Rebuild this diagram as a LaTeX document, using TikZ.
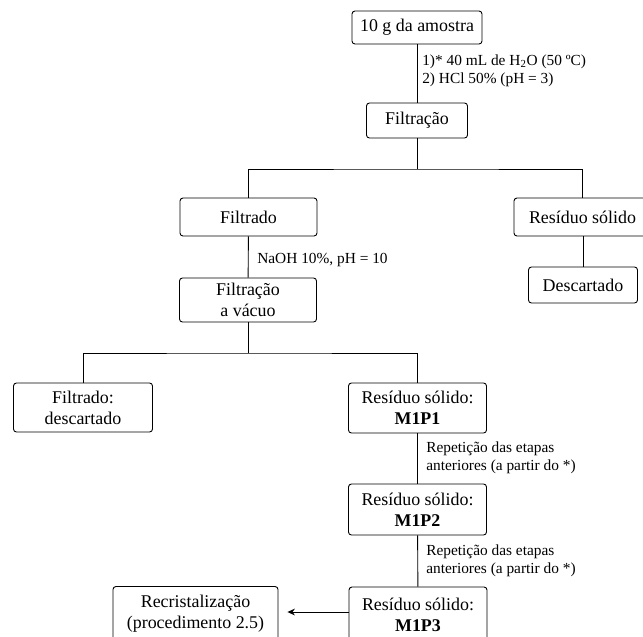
\documentclass[tikz,border=0pt]{standalone}
\usepackage{fontspec}
\setmainfont{Liberation Serif}
\usetikzlibrary{arrows.meta,calc}
\begin{document}
\begin{tikzpicture}[x=0.67pt,y=-0.67pt,
  box/.style 2 args={draw, rounded corners=2pt, line width=0.6pt, inner sep=0pt,
     minimum width=#1*0.67pt, minimum height=#2*0.67pt, align=center,
     font=\fontsize{12}{14}\selectfont},
  lbl/.style={anchor=west, inner sep=0pt, align=left, font=\fontsize{10.3}{12}\selectfont},
  conn/.style={line width=0.6pt}]
\useasboundingbox (0,0) rectangle (643,636);
\node[box={130}{33}] (amostra) at (417,27.5) {10 g da amostra};
\node[box={101}{35}] (filt) at (417,120.5) {Filtração};
\node[box={137}{38}] (filtrado) at (248.5,217) {Filtrado};
\node[box={137}{38}] (residuo) at (582.5,217) {Resíduo sólido};
\node[box={109}{36}] (descartado) at (583,285) {Descartado};
\node[box={137}{44}] (vacuo) at (248,300) {Filtração\\a vácuo};
\node[box={139}{49}] (filtdesc) at (83,407.5) {Filtrado:\\descartado};
\node[box={138}{50}] (m1) at (417.5,408) {Resíduo sólido:\\\textbf{M1P1}};
\node[box={138}{51}] (m2) at (417.5,509.5) {Resíduo sólido:\\\textbf{M1P2}};
\node[box={138}{55}] (m3) at (418,614.5) {Resíduo sólido:\\\textbf{M1P3}};
\node[box={165}{55}] (recr) at (195.5,614) {Recristalização\\(procedimento 2.5)};
\coordinate (j1) at (417,169);
\coordinate (j2) at (248,353);
\draw[conn] (amostra) -- (filt);
\draw[conn] (filt) -- (j1);
\draw[conn] (filtrado.north) |- (j1) -| (residuo.north);
\draw[conn] (filtrado) -- (vacuo);
\draw[conn] (residuo.south -| descartado.north) -- (descartado.north);
\draw[conn] (vacuo) -- (j2);
\draw[conn] (filtdesc.north) |- (j2) -| (m1.north);
\draw[conn] (m1) -- (m2);
\draw[conn] (m2) -- (m3);
\draw[conn, -{Stealth[length=5pt,width=4.5pt]}, shorten >=9*0.67pt] (m3.west |- 0,612) -- (recr.east |- 0,612);
\node[lbl] (l1) at (422,71) {1)* 40 mL de H\textsubscript{2}O (50 ºC)\\2) HCl 50\% (pH = 3)};
\node[lbl] (l2) at (257,260) {NaOH 10\%, pH = 10};
\node[lbl] (l3) at (426,458) {Repetição das etapas\\anteriores (a partir do *)};
\node[lbl] (l4) at (426,560.5) {Repetição das etapas\\anteriores (a partir do *)};
\end{tikzpicture}
\end{document}
